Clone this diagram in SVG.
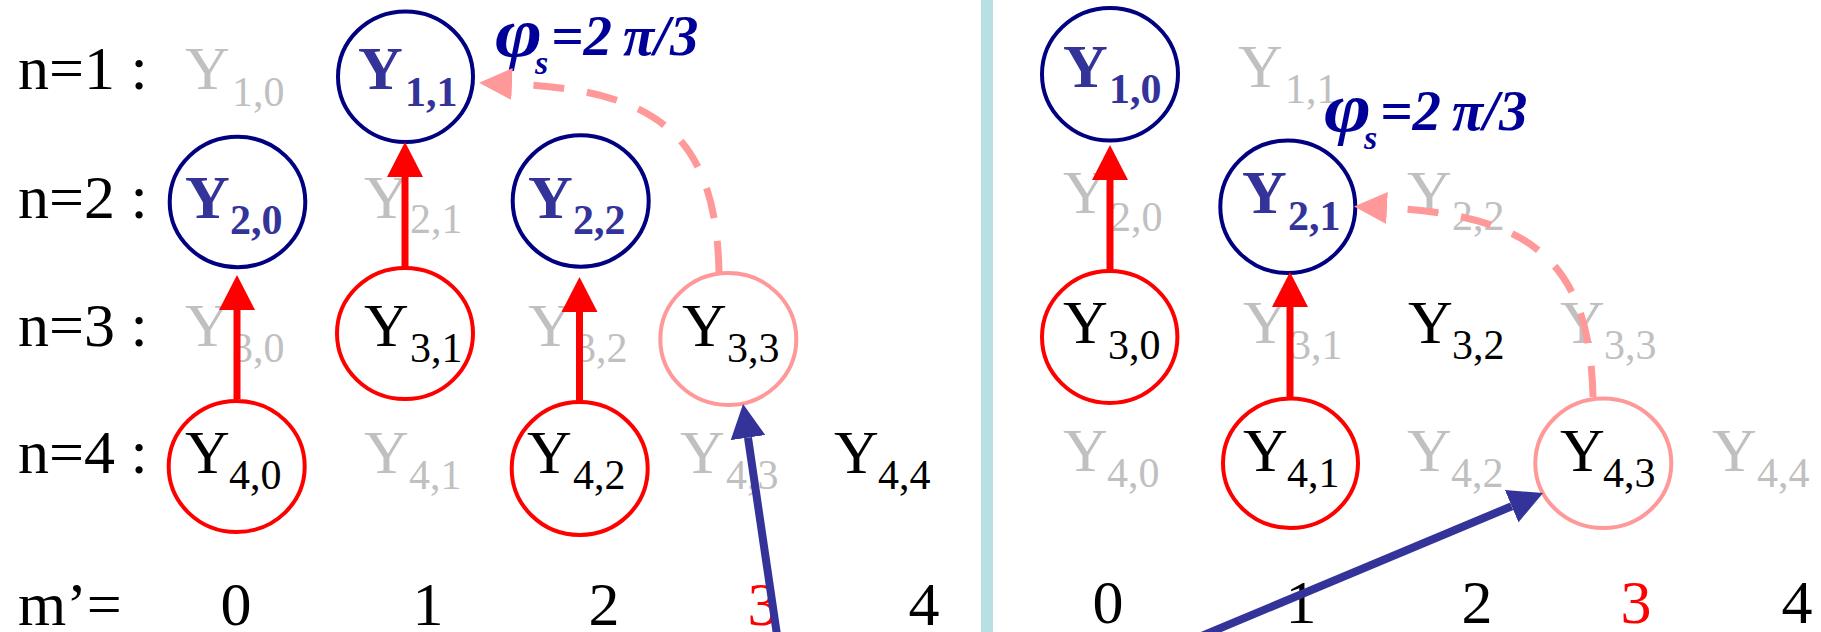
<svg xmlns="http://www.w3.org/2000/svg" width="1821" height="632" viewBox="0 0 1821 632" font-family="'Liberation Serif', 'DejaVu Serif', serif">
<style>
text{font-family:'Liberation Serif','DejaVu Serif',serif;font-size:62px;fill:#000}
.s{font-size:42px}
.g{fill:#c0c0c0}
.b{fill:#333399;font-weight:bold}
.r{fill:#ff0000}
.phi{fill:#000099;font-weight:bold;font-style:italic;font-size:57px}
.pg{font-size:70px}
.ps{font-size:34px}
ellipse{fill:none;stroke-width:4}
.cn{stroke:#000080}
.cr{stroke:#ff0000}
.cp{stroke:#ff9999}
.ar{stroke:#ff0000;stroke-width:7;fill:none;marker-end:url(#mr)}
.ap{stroke:#ff9999;stroke-width:7;fill:none;stroke-dasharray:31 23;marker-end:url(#mp)}
.ab{stroke:#333399;stroke-width:8;fill:none;marker-end:url(#mb)}
</style>
<defs>
<marker id="mr" markerUnits="userSpaceOnUse" markerWidth="36" markerHeight="36" viewBox="0 0 36 36" refX="0" refY="18" orient="auto"><path d="M0,0 L35,18 L0,36 Z" fill="#ff0000"/></marker>
<marker id="mp" markerUnits="userSpaceOnUse" markerWidth="34" markerHeight="34" viewBox="0 0 34 34" refX="0" refY="17" orient="auto"><path d="M0,1 L33,17 L0,33 Z" fill="#ff9999"/></marker>
<marker id="mb" markerUnits="userSpaceOnUse" markerWidth="36" markerHeight="36" viewBox="0 0 36 36" refX="0" refY="18" orient="auto"><path d="M0,0.5 L34,18 L0,35.5 Z" fill="#333399"/></marker>
</defs>
<rect x="0" y="0" width="1821" height="632" fill="#ffffff"/>
<rect id="separator" x="981" y="0" width="12" height="632" fill="#b8dfe3"/>

<g id="row-labels">
<text x="18" y="89">n=1 :</text>
<text x="18" y="218">n=2 :</text>
<text x="18" y="346">n=3 :</text>
<text x="18" y="473">n=4 :</text>
<text x="18" y="625">m’=</text>
</g>

<g id="m-labels" text-anchor="middle">
<text x="236" y="625">0</text>
<text x="428" y="625">1</text>
<text x="604" y="625">2</text>
<text x="763" y="625" class="r">3</text>
<text x="924" y="625">4</text>
<text x="1108" y="623">0</text>
<text x="1301" y="623">1</text>
<text x="1477" y="623">2</text>
<text x="1636" y="623" class="r">3</text>
<text x="1797" y="623">4</text>
</g>

<!-- left panel -->
<g id="L-Y10"><text x="185" y="89" class="g">Y<tspan class="s" x="232" y="106">1,0</tspan></text></g>
<g id="L-Y11"><ellipse class="cn" cx="405.5" cy="76.7" rx="67.5" ry="65.3"/><text x="358" y="89" class="b">Y<tspan class="s" x="405" y="106">1,1</tspan></text></g>
<g id="L-Y20"><ellipse class="cn" cx="237.5" cy="202" rx="67.8" ry="65.2"/><text x="185" y="218" class="b">Y<tspan class="s" x="230" y="234">2,0</tspan></text></g>
<g id="L-Y21"><text x="364" y="218" class="g">Y<tspan class="s" x="410" y="233">2,1</tspan></text></g>
<g id="L-Y22"><ellipse class="cn" cx="580.7" cy="201" rx="68" ry="65.7"/><text x="528" y="218" class="b">Y<tspan class="s" x="573" y="234">2,2</tspan></text></g>
<g id="L-Y30"><text x="185" y="346" class="g">Y<tspan class="s" x="232" y="362">3,0</tspan></text></g>
<g id="L-Y31"><ellipse class="cr" cx="405" cy="333.5" rx="68" ry="65.5"/><text x="364" y="346">Y<tspan class="s" x="410" y="362">3,1</tspan></text></g>
<g id="L-Y32"><text x="528" y="346" class="g">Y<tspan class="s" x="575" y="362">3,2</tspan></text></g>
<g id="L-Y33"><ellipse class="cp" cx="728.3" cy="339" rx="68" ry="66"/><text x="682" y="346">Y<tspan class="s" x="727" y="362">3,3</tspan></text></g>
<g id="L-Y40"><ellipse class="cr" cx="236.7" cy="466.5" rx="68" ry="65.5"/><text x="185" y="473">Y<tspan class="s" x="229" y="489">4,0</tspan></text></g>
<g id="L-Y41"><text x="364" y="473" class="g">Y<tspan class="s" x="409" y="489">4,1</tspan></text></g>
<g id="L-Y42"><ellipse class="cr" cx="579.7" cy="468.5" rx="68" ry="66.5"/><text x="527" y="473">Y<tspan class="s" x="573" y="489">4,2</tspan></text></g>
<g id="L-Y43"><text x="680" y="473" class="g">Y<tspan class="s" x="726" y="489">4,3</tspan></text></g>
<g id="L-Y44"><text x="834" y="473">Y<tspan class="s" x="878" y="489">4,4</tspan></text></g>
<g id="L-phase"><text class="phi pg" transform="translate(495,56) scale(1.15,1)">φ</text><text x="535" y="74" class="phi ps">s</text><text x="551" y="55" class="phi">=2</text><text x="623" y="55" class="phi">π/3</text></g>

<!-- right panel -->
<g id="R-Y10"><ellipse class="cn" cx="1110" cy="74.3" rx="68" ry="66.3"/><text x="1063" y="87" class="b">Y<tspan class="s" x="1109" y="103">1,0</tspan></text></g>
<g id="R-Y11"><text x="1238" y="87" class="g">Y<tspan class="s" x="1285" y="103">1,1</tspan></text></g>
<g id="R-Y20"><text x="1063" y="213" class="g">Y<tspan class="s" x="1110" y="231">2,0</tspan></text></g>
<g id="R-Y21"><ellipse class="cn" cx="1287.8" cy="206.7" rx="67.5" ry="66.3"/><text x="1242" y="213" class="b">Y<tspan class="s" x="1288" y="230">2,1</tspan></text></g>
<g id="R-Y22"><text x="1407" y="213" class="g">Y<tspan class="s" x="1452" y="230">2,2</tspan></text></g>
<g id="R-Y30"><ellipse class="cr" cx="1109.7" cy="337" rx="67.7" ry="66"/><text x="1063" y="343">Y<tspan class="s" x="1108" y="359">3,0</tspan></text></g>
<g id="R-Y31"><text x="1243" y="343" class="g">Y<tspan class="s" x="1290" y="359">3,1</tspan></text></g>
<g id="R-Y32"><text x="1408" y="343">Y<tspan class="s" x="1452" y="359">3,2</tspan></text></g>
<g id="R-Y33"><text x="1560" y="343" class="g">Y<tspan class="s" x="1604" y="359">3,3</tspan></text></g>
<g id="R-Y40"><text x="1063" y="471" class="g">Y<tspan class="s" x="1107" y="487">4,0</tspan></text></g>
<g id="R-Y41"><ellipse class="cr" cx="1290.5" cy="463.3" rx="67.5" ry="64.7"/><text x="1243" y="471">Y<tspan class="s" x="1287" y="487">4,1</tspan></text></g>
<g id="R-Y42"><text x="1407" y="471" class="g">Y<tspan class="s" x="1451" y="487">4,2</tspan></text></g>
<g id="R-Y43"><ellipse class="cp" cx="1603.3" cy="463.3" rx="68" ry="64.7"/><text x="1560" y="471">Y<tspan class="s" x="1603" y="487">4,3</tspan></text></g>
<g id="R-Y44"><text x="1712" y="471" class="g">Y<tspan class="s" x="1757" y="487">4,4</tspan></text></g>
<g id="R-phase"><text class="phi pg" transform="translate(1324,131) scale(1.15,1)">φ</text><text x="1364" y="149" class="phi ps">s</text><text x="1380" y="130" class="phi">=2</text><text x="1452" y="130" class="phi">π/3</text></g>

<g id="connectors">
<line class="ar" x1="237" y1="399" x2="237" y2="310"/>
<line class="ar" x1="405" y1="267" x2="405" y2="177"/>
<line class="ar" x1="579.5" y1="401" x2="579.5" y2="312"/>
<line class="ar" x1="1110" y1="271" x2="1110" y2="180"/>
<line class="ar" x1="1290" y1="398" x2="1290" y2="307"/>
<path class="ap" d="M719,272 C716,134 656,90 512,84"/>
<path class="ap" d="M1593,397 C1590,260 1530,215 1387,208"/>
<line class="ab" x1="778.5" y1="645" x2="748" y2="437.6"/>
<line class="ab" x1="1180" y1="645" x2="1511.7" y2="506.2"/>
</g>
</svg>
